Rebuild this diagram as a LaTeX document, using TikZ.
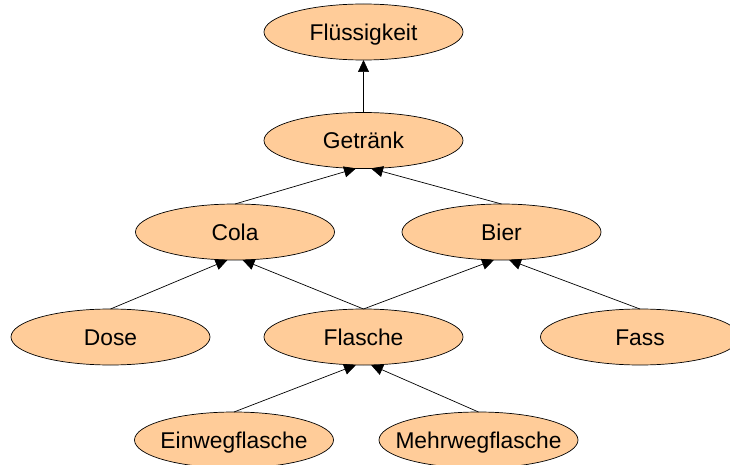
\documentclass[tikz,border=0pt]{standalone}
\usepackage{fontspec}
\setmainfont{Liberation Sans}
\usetikzlibrary{shapes.geometric, arrows.meta}
\definecolor{termfill}{HTML}{FFCC99}
\tikzset{
	term/.style={ellipse, draw, line width=0.7pt, fill=termfill, minimum width=199pt, minimum height=56pt,
		inner xsep=-95pt, outer sep=0pt, font=\fontsize{22.8}{27}\selectfont, text height=16.3pt, text depth=0pt},
	isa/.style={draw, line width=0.7pt, -{Triangle[length=12pt, width=11pt]}}
}

\begin{document}
\begin{tikzpicture}[x=1pt, y=-1pt]
	\clip (0, 0) rectangle (730, 465);
	% Begriffe
	\node[term] (fluessigkeit) at (363.5, 32) {Flüssigkeit};
	\node[term] (getraenk) at (363.5, 140.5) {Getränk};
	\node[term] (cola) at (235, 232) {Cola};
	\node[term] (bier) at (501.5, 232) {Bier};
	\node[term] (dose) at (110.5, 337) {Dose};
	\node[term] (flasche) at (363.5, 337) {Flasche};
	\node[term] (fass) at (640, 337) {Fass};
	\node[term] (einweg) at (234, 440) {Einwegflasche};
	\node[term] (mehrweg) at (478.5, 440) {Mehrwegflasche};
	% Beziehungen
	\draw[isa] (getraenk.north) -- (fluessigkeit.south);
	\draw[isa] (cola.north) -- (getraenk.255);
	\draw[isa] (bier.north) -- (getraenk.285);
	\draw[isa] (dose.north) -- (cola.255);
	\draw[isa] (flasche.north) -- (cola.285);
	\draw[isa] (flasche.north) -- (bier.255);
	\draw[isa] (fass.north) -- (bier.285);
	\draw[isa] (einweg.north) -- (flasche.255);
	\draw[isa] (mehrweg.north) -- (flasche.285);
\end{tikzpicture}
\end{document}
